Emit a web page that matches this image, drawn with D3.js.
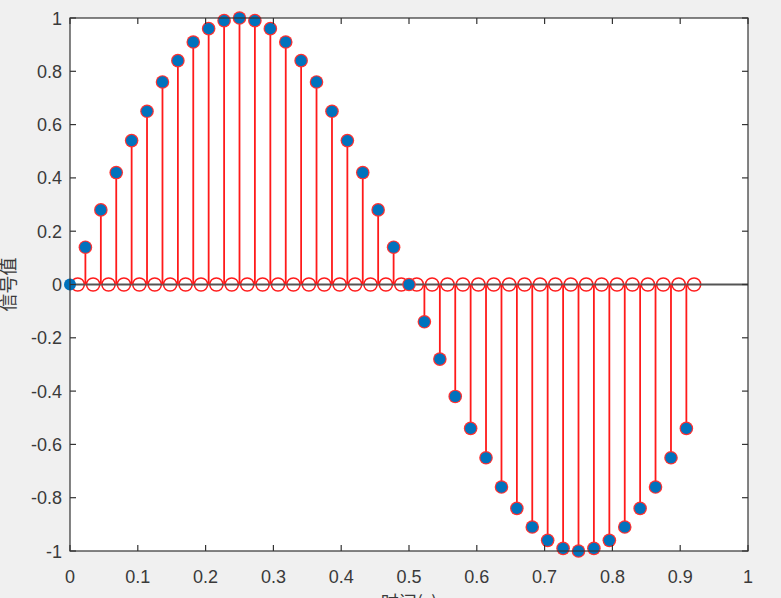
<!DOCTYPE html>
<html><head><meta charset="utf-8">
<script src="https://cdn.jsdelivr.net/npm/d3@7/dist/d3.min.js"></script>
<style>html,body{margin:0;padding:0;background:#f0f0f0;}svg{display:block;}</style>
</head><body>
<script>
// ---- data ----
const times = [0,0.0227,0.0455,0.0682,0.0909,0.1136,0.1364,0.1591,0.1818,0.2045,0.2273,0.25,0.2727,0.2955,0.3182,0.3409,0.3636,0.3864,0.4091,0.4318,0.4545,0.4773,0.5,0.5227,0.5455,0.5682,0.5909,0.6136,0.6364,0.6591,0.6818,0.7045,0.7273,0.75,0.7727,0.7955,0.8182,0.8409,0.8636,0.8864,0.9091];
const values = [0,0.14,0.28,0.42,0.54,0.65,0.76,0.84,0.91,0.96,0.99,1.00,0.99,0.96,0.91,0.84,0.76,0.65,0.54,0.42,0.28,0.14,0.00,-0.14,-0.28,-0.42,-0.54,-0.65,-0.76,-0.84,-0.91,-0.96,-0.99,-1.00,-0.99,-0.96,-0.91,-0.84,-0.76,-0.65,-0.54];
const zeroTimes = [0.0114,0.0341,0.0568,0.0795,0.1023,0.125,0.1477,0.1705,0.1932,0.2159,0.2386,0.2614,0.2841,0.3068,0.3295,0.3523,0.375,0.3977,0.4205,0.4432,0.4659,0.4886,0.5114,0.5341,0.5568,0.5795,0.6023,0.625,0.6477,0.6705,0.6932,0.7159,0.7386,0.7614,0.7841,0.8068,0.8295,0.8523,0.875,0.8977,0.9205];
const xTicks = [0,0.1,0.2,0.3,0.4,0.5,0.6,0.7,0.8,0.9,1];
const yTicks = [-1,-0.8,-0.6,-0.4,-0.2,0,0.2,0.4,0.6,0.8,1];
const xLabel = "时间(s)";
const yLabel = "信号值";

const W = 781, H = 598;
const L = 70, R = 748, T = 18, B = 551;
const x = d3.scaleLinear().domain([0,1]).range([L,R]);
const y = d3.scaleLinear().domain([-1,1]).range([B,T]);

const svg = d3.select("body").append("svg").attr("width",W).attr("height",H);
svg.append("rect").attr("width",W).attr("height",H).attr("fill","#f0f0f0");
svg.append("rect").attr("x",L).attr("y",T).attr("width",R-L).attr("height",B-T).attr("fill","#fff");

const font = "'Liberation Sans', Arial, Helvetica, sans-serif";
const txt = "#3a3a3a";

// red open circles on baseline
svg.append("g").selectAll("circle").data(zeroTimes).join("circle")
  .attr("cx",d=>x(d)).attr("cy",y(0)).attr("r",6.6)
  .attr("fill","none").attr("stroke","#ff1a1a").attr("stroke-width",1.5);

// baseline
svg.append("line").attr("x1",L).attr("x2",R).attr("y1",y(0)).attr("y2",y(0))
  .attr("stroke","#555").attr("stroke-width",2);

const pts = times.map((t,i)=>({t, v: values[i], i}));
// red stems
svg.append("g").selectAll("line").data(pts.filter(p=>p.i>0)).join("line")
  .attr("x1",d=>x(d.t)).attr("x2",d=>x(d.t)).attr("y1",y(0)).attr("y2",d=>y(d.v))
  .attr("stroke","#ff1a1a").attr("stroke-width",1.8);
// red rings
svg.append("g").selectAll("circle").data(pts.filter(p=>p.i>0)).join("circle")
  .attr("cx",d=>x(d.t)).attr("cy",d=>y(d.v)).attr("r",6.8)
  .attr("fill","#ff3030").attr("stroke","none");
// blue markers
svg.append("g").selectAll("circle").data(pts).join("circle")
  .attr("cx",d=>x(d.t)).attr("cy",d=>y(d.v)).attr("r",d=>d.i===0?6:5.6)
  .attr("fill","#0072bd");

// axes box & ticks (inward, all sides)
const ax = svg.append("g").attr("stroke","#333").attr("stroke-width",1.2);
ax.append("rect").attr("x",L).attr("y",T).attr("width",R-L).attr("height",B-T).attr("fill","none");
const tl = 6;
xTicks.forEach(v=>{
  ax.append("line").attr("x1",x(v)).attr("x2",x(v)).attr("y1",B).attr("y2",B-tl);
  ax.append("line").attr("x1",x(v)).attr("x2",x(v)).attr("y1",T).attr("y2",T+tl);
});
yTicks.forEach(v=>{
  ax.append("line").attr("y1",y(v)).attr("y2",y(v)).attr("x1",L).attr("x2",L+tl);
  ax.append("line").attr("y1",y(v)).attr("y2",y(v)).attr("x1",R).attr("x2",R-tl);
});

// tick labels
const fmt = v => (Math.abs(v)<1e-9 ? "0" : d3.format("")(Math.round(v*10)/10)).replace("−","-");
svg.append("g").selectAll("text").data(xTicks).join("text")
  .attr("x",d=>x(d)).attr("y",583).attr("text-anchor","middle")
  .attr("font-family",font).attr("font-size",18).attr("fill",txt).text(fmt);
svg.append("g").selectAll("text").data(yTicks).join("text")
  .attr("x",62).attr("y",d=>y(d)+6.5).attr("text-anchor","end")
  .attr("font-family",font).attr("font-size",18).attr("fill",txt).text(fmt);

// axis labels (partly outside the window, as in the reference)
svg.append("text").attr("x",(L+R)/2).attr("y",609).attr("text-anchor","middle")
  .attr("font-family","'Noto Sans CJK SC', sans-serif").attr("font-size",18).attr("fill",txt).text(xLabel);
svg.append("text").attr("transform",`translate(15,${(T+B)/2}) rotate(-90)`).attr("text-anchor","middle")
  .attr("font-family","'Noto Sans CJK SC', sans-serif").attr("font-size",18).attr("fill",txt).text(yLabel);
</script>
</body></html>
